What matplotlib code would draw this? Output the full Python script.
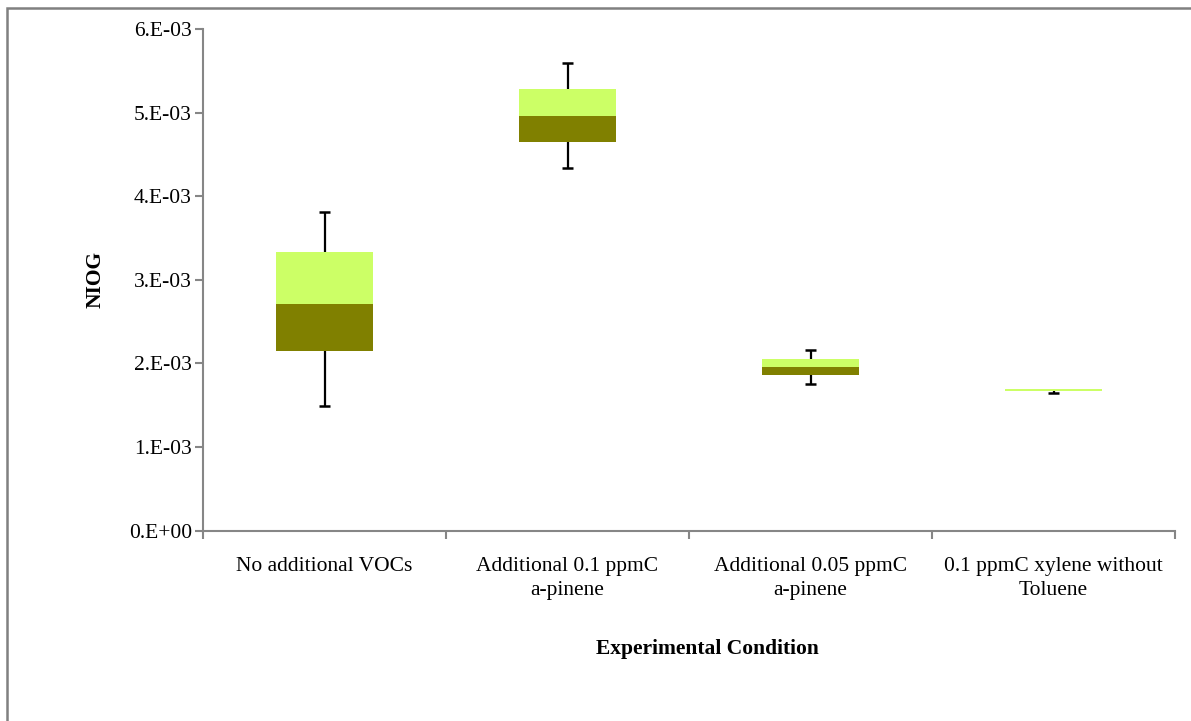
import numpy as np
import matplotlib.pyplot as plt
from matplotlib.patches import Rectangle

categories = ['No additional VOCs', 'Additional 0.1 ppmC\na-pinene',
              'Additional 0.05 ppmC\na-pinene', '0.1 ppmC xylene without\nToluene']
minimum = [1.49e-3, 4.34e-3, 1.75e-3, 1.64e-3]
q1 = [2.15e-3, 4.65e-3, 1.855e-3, 1.665e-3]
median = [2.71e-3, 4.965e-3, 1.96e-3, 1.667e-3]
q3 = [3.33e-3, 5.28e-3, 2.05e-3, 1.695e-3]
maximum = [3.815e-3, 5.59e-3, 2.16e-3, 1.695e-3]
yticks = [0, 1e-3, 2e-3, 3e-3, 4e-3, 5e-3, 6e-3]
ytick_labels = ['0.E+00', '1.E-03', '2.E-03', '3.E-03', '4.E-03', '5.E-03', '6.E-03']

plt.rcParams['font.family'] = ['Liberation Serif', 'DejaVu Serif']

fig = plt.figure(figsize=(11.91, 7.21), dpi=100)
ax = fig.add_axes([203 / 1191, 1 - 530.5 / 721, 972 / 1191, 501.5 / 721])

x = np.arange(len(categories))
q1 = np.array(q1)
median = np.array(median)
q3 = np.array(q3)

ax.bar(x, median - q1, bottom=q1, width=0.4, color='#808000', zorder=2)
ax.bar(x, q3 - median, bottom=median, width=0.4, color='#CCFF66', zorder=2)

# whiskers
cap = 0.021
for i in range(len(x)):
    if maximum[i] > q3[i]:
        ax.vlines(x[i], q3[i], maximum[i], color='black', lw=1.6, zorder=3)
        ax.hlines(maximum[i], x[i] - cap, x[i] + cap, color='black', lw=1.8, zorder=3)
    if minimum[i] < q1[i]:
        ax.vlines(x[i], minimum[i], q1[i], color='black', lw=1.6, zorder=3)
        ax.hlines(minimum[i], x[i] - cap, x[i] + cap, color='black', lw=1.8, zorder=3)

ax.set_xlim(-0.5, len(categories) - 0.5)
ax.set_ylim(0, 6e-3)
ax.set_yticks(yticks)
ax.set_yticklabels(ytick_labels, fontsize=15.5)
ax.set_xticks(x)
ax.set_xticklabels(categories, fontsize=15.5, linespacing=1.4)
ax.set_xticks(np.arange(-0.5, len(categories)), minor=True)
ax.tick_params(axis='x', which='major', length=0, pad=19)
ax.tick_params(axis='x', which='minor', length=6, width=1.5, color='#868686', direction='out')
ax.tick_params(axis='y', length=6, width=1.5, color='#868686', pad=2)

for side in ['top', 'right']:
    ax.spines[side].set_visible(False)
for side in ['left', 'bottom']:
    ax.spines[side].set_color('#868686')
    ax.spines[side].set_linewidth(1.5)

ax.set_ylabel('NIOG', fontsize=15.5, fontweight='bold')
ax.yaxis.set_label_coords((106 - 203) / 972, 0.5)
fig.text(707 / 1191, 1 - 649 / 721, 'Experimental Condition', fontsize=15.5,
         fontweight='bold', ha='center', va='center')

# chart area border
fig.patches.append(Rectangle((7 / 1191, -0.1), 1.2, 1 - 8 / 721 + 0.1,
                             transform=fig.transFigure, fill=False,
                             edgecolor='#808080', linewidth=1.8))

plt.savefig('out.png', dpi=100)
